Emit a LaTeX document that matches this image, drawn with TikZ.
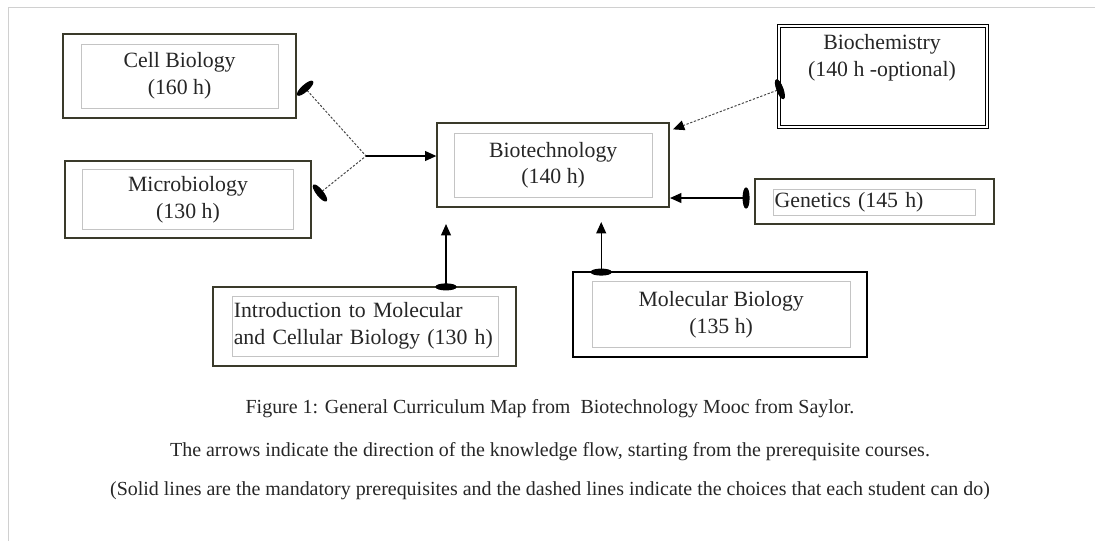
\documentclass[tikz,border=0pt]{standalone}
\usepackage{fontspec}
\setmainfont{Liberation Serif}
\usetikzlibrary{arrows.meta,calc}
\definecolor{boxline}{HTML}{3A3A2A}
\definecolor{inline}{HTML}{C4C4C4}
\definecolor{frameline}{HTML}{D0D0D0}
\definecolor{dashline}{HTML}{454545}
\tikzset{
  course/.style={draw=boxline, line width=1.2pt, fill=white, inner sep=0pt},
  inbox/.style={draw=inline, line width=0.5pt, inner sep=0pt, align=center, font=\fontsize{15.5}{19}\selectfont, text=black!85},
  reqlink/.style={draw=black, line width=0.9pt},
  optlink/.style={draw=dashline, line width=0.7pt, dash pattern=on 1.6pt off 1.2pt},
  oval/.tip={Ellipse[length=5pt,width=15pt,color=black]},
  tri/.tip={Triangle[length=8pt,width=7pt,color=black]},
  caption/.style={font=\fontsize{14.2}{18}\selectfont, text=black!85}
}
\begin{document}
\begin{tikzpicture}
    \useasboundingbox (0,0) rectangle (27.375,-13.525);
    \draw[frameline, line width=0.8pt] (0.21,-13.525) -- (0.21,-0.19) -- (27.375,-0.19); %frame

    \node[course, minimum width=5.83cm, minimum height=2.1cm] (cell) at (4.49,-1.9) {}; %cell
    \node[inbox, minimum width=4.93cm, minimum height=1.6cm] (cell-in) at (cell) {Cell Biology\\(160 h)};
    \node[course, minimum width=6.15cm, minimum height=1.93cm] (micro) at (4.7,-4.99) {}; %micro
    \node[inbox, minimum width=5.28cm, minimum height=1.5cm] (micro-in) at (micro) {Microbiology\\(130 h)};
    \node[course, minimum width=5.8cm, minimum height=2.1cm] (bio) at (13.83,-4.13) {}; %biotech
    \node[inbox, minimum width=4.95cm, minimum height=1.6cm] (bio-in) at (bio) {Biotechnology\\(140 h)};

    \node[course, draw=black, line width=0.7pt, double, double distance=1.6pt, minimum width=5.2cm, minimum height=2.53cm] (chem) at (22.08,-1.91) {}; %biochem
    \node[inbox, draw=none] (chem-text) at (22.05,-1.45) {Biochemistry\\(140 h -optional)};
    \node[course, minimum width=5.98cm, minimum height=1.13cm] (gen) at (21.86,-5.04) {}; %genetics
    \node[inbox, minimum height=0.63cm, text width=4.97cm, inner xsep=0.04cm, align=left] (gen-in) at (21.85,-5.06) {Genetics (145 h)};

    \node[course, minimum width=7.58cm, minimum height=1.98cm] (intro) at (9.11,-8.16) {}; %intro
    \node[inbox, minimum height=1.5cm, text width=6.57cm, inner xsep=0.04cm, align=left] (intro-in) at (9.13,-8.15) {Introduction to Molecular\\and Cellular Biology (130 h)};
    \node[course, draw=black, line width=1.3pt, minimum width=7.35cm, minimum height=2.13cm] (mol) at (18,-7.86) {}; %molecular
    \node[inbox, minimum width=6.45cm, minimum height=1.63cm] (mol-in) at (18.03,-7.86) {Molecular Biology\\(135 h)};

    \coordinate (cellend) at (7.57,-2.14);
    \coordinate (microend) at (7.93,-4.88);
    \coordinate (join) at (9.15,-3.9);
    \coordinate (chemend) at (19.58,-2.2);
    \coordinate (genend) at (18.74,-4.95);
    \coordinate (introend) at (11.15,-7.26);
    \coordinate (molend) at (15.03,-6.89);

    \draw[optlink, {oval}-] (cellend) -- (join);
    \draw[optlink, {oval}-] (microend) -- (join);
    \draw[reqlink, -{tri}] (join) -- (join -| bio.west);
    \draw[optlink, {oval}-{tri}] (chemend) -- ([shift={(0.075,-0.175)}]bio.north east);
    \draw[reqlink, {oval}-{tri}] (genend) -- (genend -| bio.east);
    \draw[reqlink, {oval}-{tri}] (introend) -- ($(introend |- bio.south)+(0,-0.4)$);
    \draw[reqlink, {oval}-{tri}] (molend) -- ($(molend |- bio.south)+(0,-0.35)$);

    \node[caption] (cap1) at (13.75,-10.22) {Figure 1: General Curriculum Map from\ \ Biotechnology Mooc from Saylor.};
    \node[caption] (cap2) at (13.75,-11.3) {The arrows indicate the direction of the knowledge flow, starting from the prerequisite courses.};
    \node[caption] (cap3) at (13.75,-12.27) {(Solid lines are the mandatory prerequisites and the dashed lines indicate the choices that each student can do)};
\end{tikzpicture}
\end{document}
